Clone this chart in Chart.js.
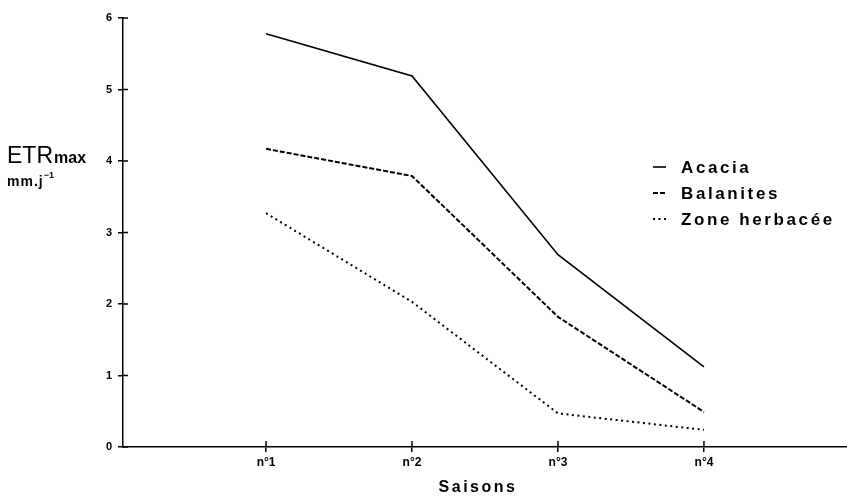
<!DOCTYPE html>
<html>
<head>
<meta charset="utf-8">
<script src="https://cdn.jsdelivr.net/npm/chart.js@4"></script>
<style>
  html, body { margin: 0; padding: 0; background: #fff; }
  #wrap { width: 847px; height: 497px; }
</style>
</head>
<body>
<div id="wrap"><canvas id="etrChart" width="847" height="497"></canvas></div>
<script>
// --- Data ---
const seasons = ["n°1", "n°2", "n°3", "n°4"];
const acacia = [5.78, 5.19, 2.69, 1.12];
const balanites = [4.17, 3.79, 1.82, 0.49];
const herbacee = [3.27, 2.03, 0.47, 0.24];
const yTicks = [0, 1, 2, 3, 4, 5, 6];

const FONT = "'Liberation Sans', Arial, sans-serif";

function toPoints(values) {
  return values.map((v, i) => ({ x: i + 1, y: v }));
}

// --- Extra drawing: crossing ticks, axis titles, legend ---
const decorations = {
  id: "decorations",
  afterDraw(chart) {
    const ctx = chart.ctx;
    const x = chart.scales.x;
    const y = chart.scales.y;
    const area = chart.chartArea;
    ctx.save();
    ctx.strokeStyle = "#000";
    ctx.lineWidth = 1.5;

    // inner half of the tick marks
    y.ticks.forEach(t => {
      const py = y.getPixelForValue(t.value);
      ctx.beginPath();
      ctx.moveTo(area.left, py);
      ctx.lineTo(area.left + 5, py);
      ctx.stroke();
    });
    x.ticks.forEach(t => {
      const px = x.getPixelForValue(t.value);
      ctx.beginPath();
      ctx.moveTo(px, area.bottom);
      ctx.lineTo(px, area.bottom - 6);
      ctx.stroke();
    });

    // y axis title
    ctx.fillStyle = "#000";
    ctx.textAlign = "left";
    ctx.textBaseline = "alphabetic";
    ctx.font = "23px " + FONT;
    ctx.fillText("ETR", 7, 163);
    const w = ctx.measureText("ETR").width;
    ctx.font = "bold 16px " + FONT;
    ctx.fillText("max", 7 + w + 1, 163);
    ctx.font = "bold 14px " + FONT;
    ctx.letterSpacing = "1px";
    ctx.fillText("mm.j", 7, 186);
    const w2 = ctx.measureText("mm.j").width;
    ctx.font = "bold 9px " + FONT;
    ctx.letterSpacing = "0px";
    ctx.fillText("\u22121", 7 + w2, 178);

    // x axis title
    ctx.font = "bold 16px " + FONT;
    ctx.letterSpacing = "2.5px";
    ctx.textAlign = "center";
    ctx.fillText("Saisons", 478, 492);

    // legend
    ctx.textAlign = "left";
    ctx.textBaseline = "middle";
    ctx.font = "bold 17px " + FONT;
    ctx.letterSpacing = "2.6px";
    chart.data.datasets.forEach((ds, i) => {
      const ly = 167 + i * 26;
      ctx.setLineDash(ds.borderDash || []);
      ctx.lineWidth = ds.borderWidth;
      ctx.beginPath();
      ctx.moveTo(653, ly);
      ctx.lineTo(666, ly);
      ctx.stroke();
      ctx.setLineDash([]);
      ctx.fillText(ds.label, 681, ly + 1);
    });
    ctx.restore();
  }
};

new Chart(document.getElementById("etrChart"), {
  type: "line",
  data: {
    datasets: [
      { label: "Acacia", data: toPoints(acacia), borderColor: "#000", borderWidth: 1.6 },
      { label: "Balanites", data: toPoints(balanites), borderColor: "#000", borderWidth: 2, borderDash: [5, 2] },
      { label: "Zone herbacée", data: toPoints(herbacee), borderColor: "#000", borderWidth: 2, borderDash: [2, 3.5] }
    ]
  },
  options: {
    responsive: false,
    animation: false,
    devicePixelRatio: 1,
    layout: { padding: { top: 18, right: 0, bottom: 0, left: 0 } },
    elements: { point: { radius: 0 }, line: { tension: 0, fill: false } },
    plugins: { legend: { display: false }, tooltip: { enabled: false } },
    scales: {
      x: {
        type: "linear",
        min: 0.02,
        max: 4.98,
        afterFit: s => { s.height = 50; },
        afterBuildTicks: s => { s.ticks = seasons.map((_, i) => ({ value: i + 1 })); },
        border: { display: true, color: "#000", width: 1.5 },
        grid: { drawOnChartArea: false, drawTicks: true, tickLength: 5, color: "#000", lineWidth: 1.5 },
        ticks: {
          color: "#000",
          padding: 3,
          maxRotation: 0,
          font: { family: FONT, size: 12, weight: "bold" },
          callback: v => seasons[v - 1]
        }
      },
      y: {
        min: 0,
        max: 6,
        afterFit: s => { s.width = 123; },
        afterBuildTicks: s => { s.ticks = yTicks.map(v => ({ value: v })); },
        border: { display: true, color: "#000", width: 1.5 },
        grid: { drawOnChartArea: false, drawTicks: true, tickLength: 5, color: "#000", lineWidth: 1.5 },
        ticks: {
          color: "#000",
          padding: 6,
          font: { family: FONT, size: 11, weight: "bold" }
        }
      }
    }
  },
  plugins: [decorations]
});
</script>
</body>
</html>
